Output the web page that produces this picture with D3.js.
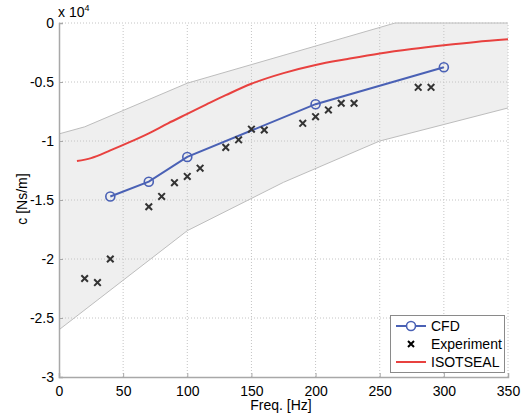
<!DOCTYPE html>
<html><head><meta charset="utf-8">
<script src="https://cdn.jsdelivr.net/npm/d3@7"></script>
<style>
body{margin:0;background:#fff;}
text{font-family:"Liberation Sans",Arial,sans-serif;}
</style></head>
<body><svg id="c" width="529" height="416"></svg>
<script>
// values in units of x10^4 Ns/m
const xTicks = [0,50,100,150,200,250,300,350];
const yTicks = [0,-0.5,-1,-1.5,-2,-2.5,-3];
const yTickLabels = ["0","-0.5","-1","-1.5","-2","-2.5","-3"];

const bandUpperX = [0,20,100,262,350];
const bandUpperY = [-0.94,-0.88,-0.51,0,0];
const bandLowerX = [0,100,175,250,350];
const bandLowerY = [-2.6,-1.76,-1.35,-1.0,-0.72];

const cfdX = [40,70,100,200,300];
const cfdY = [-1.47,-1.345,-1.135,-0.688,-0.375];

const expX = [20,30,40,70,80,90,100,110,130,140,150,160,190,200,210,220,230,280,290];
const expY = [-2.165,-2.2,-2.0,-1.557,-1.47,-1.353,-1.30,-1.23,-1.054,-0.99,-0.90,-0.907,-0.85,-0.794,-0.737,-0.68,-0.68,-0.545,-0.545];

const isoX = [14,25,40,55,70,85,100,115,130,150,175,200,225,250,275,300,325,350];
const isoY = [-1.17,-1.145,-1.08,-1.01,-0.935,-0.85,-0.77,-0.69,-0.612,-0.515,-0.425,-0.356,-0.305,-0.258,-0.22,-0.188,-0.16,-0.138];

const legendLabels = ["CFD","Experiment","ISOTSEAL"];

const svg = d3.select("#c");
const m = {l:59, t:23, w:449, h:354};
const x = d3.scaleLinear().domain([0,350]).range([m.l, m.l+m.w]);
const y = d3.scaleLinear().domain([-3,0]).range([m.t+m.h, m.t]);

const blue = "#4a61b5", red = "#e8413f";
const FS = 14;

// band
const bandPts = bandUpperX.map((d,i)=>[d,bandUpperY[i]])
  .concat(bandLowerX.map((d,i)=>[d,bandLowerY[i]]).reverse());
const ln = d3.line().x(d=>x(d[0])).y(d=>y(d[1]));
svg.append("path").attr("d", ln(bandPts)+"Z").attr("fill","#efefef").attr("stroke","none");
svg.append("path").attr("d", ln(bandUpperX.map((d,i)=>[d,bandUpperY[i]])))
  .attr("fill","none").attr("stroke","#bdbdbd").attr("stroke-width",1);
svg.append("path").attr("d", ln(bandLowerX.map((d,i)=>[d,bandLowerY[i]])))
  .attr("fill","none").attr("stroke","#bdbdbd").attr("stroke-width",1);

// grid
const g = svg.append("g");
xTicks.filter(d=>d>0).forEach(d=>{
  g.append("line").attr("x1",x(d)).attr("x2",x(d)).attr("y1",y(-3)).attr("y2",y(0))
   .attr("stroke","#c4c4c4").attr("stroke-dasharray","1,2").attr("stroke-width",1);
});
yTicks.filter(d=>d>-3).forEach(d=>{
  g.append("line").attr("x1",x(0)).attr("x2",x(350)).attr("y1",y(d)).attr("y2",y(d))
   .attr("stroke","#c4c4c4").attr("stroke-dasharray","1,2").attr("stroke-width",1);
});

// axes
const xAxis = d3.axisBottom(x).tickValues(xTicks).tickSize(-4).tickPadding(6);
const yAxis = d3.axisLeft(y).tickValues(yTicks).tickSize(-4).tickPadding(5)
  .tickFormat((d,i)=>yTickLabels[i]);
const gx = svg.append("g").attr("transform",`translate(0,${y(-3)})`).call(xAxis);
const gy = svg.append("g").attr("transform",`translate(${x(0)},0)`).call(yAxis);
[gx,gy].forEach(a=>{
  a.attr("font-size",FS).attr("font-family","Liberation Sans, Arial, sans-serif");
  a.select(".domain").attr("stroke","#a8a8a8").attr("stroke-width",1.5);
  a.selectAll(".tick line").attr("stroke","#a8a8a8");
  a.selectAll("text").attr("font-size",FS).attr("fill","#000");
});
gx.selectAll("text").attr("dy","0.95em");
gy.selectAll("text").attr("dy","0.35em");

// ISOTSEAL
svg.append("path")
  .attr("d", d3.line().curve(d3.curveCatmullRom).x(d=>x(d)).y((d,i)=>y(isoY[i]))(isoX))
  .attr("fill","none").attr("stroke",red).attr("stroke-width",2);

// CFD
svg.append("path")
  .attr("d", d3.line().x(d=>x(d)).y((d,i)=>y(cfdY[i]))(cfdX))
  .attr("fill","none").attr("stroke",blue).attr("stroke-width",2);
svg.selectAll(".cfd").data(cfdX).enter().append("circle")
  .attr("cx",d=>x(d)).attr("cy",(d,i)=>y(cfdY[i])).attr("r",4.5)
  .attr("fill","none").attr("stroke",blue).attr("stroke-width",1.6);

// Experiment
const cross = (s,cx,cy,r,col)=>{
  s.append("path").attr("d",`M${cx-r},${cy-r}L${cx+r},${cy+r}M${cx-r},${cy+r}L${cx+r},${cy-r}`)
   .attr("stroke",col).attr("stroke-width",2).attr("fill","none");
};
expX.forEach((d,i)=>cross(svg,x(d),y(expY[i]),3.3,"#333"));

// labels
svg.append("text").attr("x",281).attr("y",410).attr("text-anchor","middle")
  .attr("font-size",FS).text("Freq. [Hz]");
svg.append("text").attr("transform","translate(27,199) rotate(-90)").attr("text-anchor","middle")
  .attr("font-size",FS).text("c [Ns/m]");
const mult = svg.append("text").attr("x",58).attr("y",17).attr("font-size",FS);
mult.append("tspan").text("x 10");
mult.append("tspan").attr("font-size",9).attr("dy",-6).text("4");

// legend
const lg = svg.append("g");
lg.append("rect").attr("x",390.5).attr("y",315.5).attr("width",114).attr("height",57)
  .attr("fill","#fff").attr("stroke","#8a8a8a").attr("stroke-width",1);
const ly = [326,344,362];
lg.append("line").attr("x1",396).attr("x2",426).attr("y1",ly[0]).attr("y2",ly[0])
  .attr("stroke",blue).attr("stroke-width",2);
lg.append("circle").attr("cx",411).attr("cy",ly[0]).attr("r",4.5).attr("fill","#fff")
  .attr("stroke",blue).attr("stroke-width",1.6);
cross(lg,411,ly[1],3,"#000");
lg.append("line").attr("x1",396).attr("x2",426).attr("y1",ly[2]).attr("y2",ly[2])
  .attr("stroke",red).attr("stroke-width",2);
legendLabels.forEach((t,i)=>{
  lg.append("text").attr("x",431).attr("y",ly[i]).attr("dy","0.36em")
    .attr("font-size",FS).text(t);
});
</script></body></html>
